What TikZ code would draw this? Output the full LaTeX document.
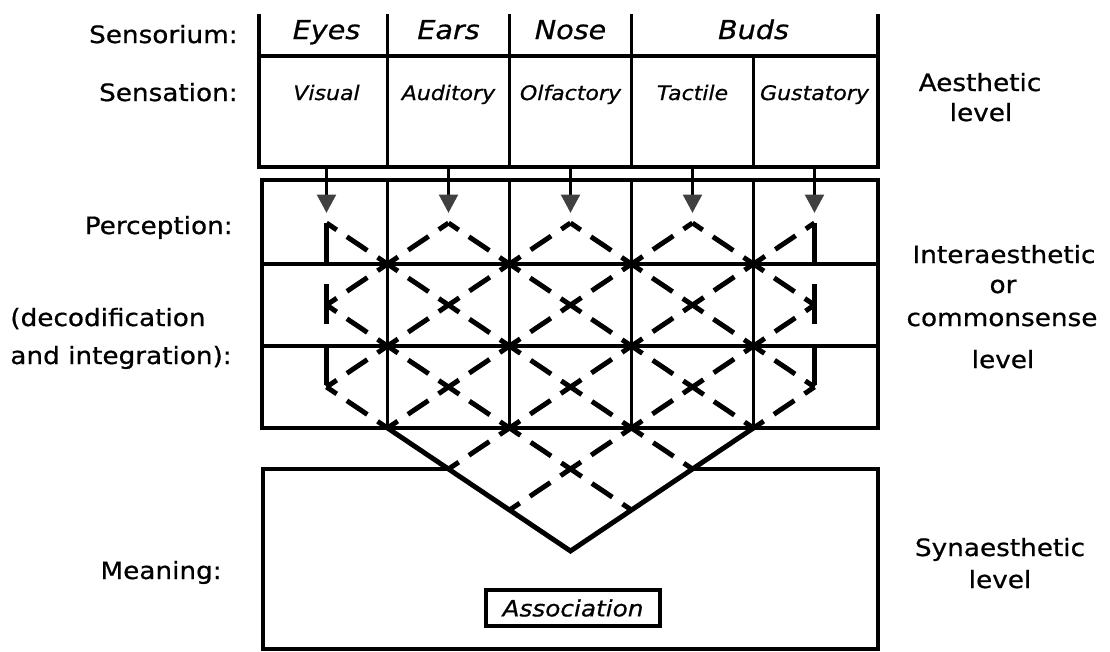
\documentclass[tikz,border=0pt]{standalone}
\usepackage{fontspec}
\setmainfont{DejaVu Sans}[FakeStretch=1.1, FakeBold=0.7]
\usetikzlibrary{arrows.meta}

\begin{document}
\begin{tikzpicture}[scale=0.2,
  tab/.style={black, line width=2.2pt},
  cell/.style={black, line width=1.8pt},
  lat/.style={black, line width=2.8pt, dash pattern=on 14pt off 7pt, dash phase=7pt},
  edge/.style={black, line width=2.8pt, dash pattern=on 22.8pt off 12pt},
  vee/.style={black, line width=2.8pt, line join=miter},
  feed/.style={black, line width=2.2pt, -{Triangle[width=10.5pt,length=10.5pt,fill=black!75,color=black!75]}},
  lbl/.style={inner sep=0pt, font=\fontsize{13.6}{16}\selectfont},
  head/.style={inner sep=0pt, font=\fontsize{14.8}{17}\selectfont\itshape},
  sense/.style={inner sep=0pt, font=\fontsize{11.4}{13}\selectfont\itshape}]
\useasboundingbox (0,0) rectangle (111,-65.1);
\tikzstyle{every node}+=[inner sep=0pt]
\draw [tab] (25.9,-1.4) -- (25.9,-16.7) -- (87.8,-16.7) -- (87.8,-1.4);
\draw [tab] (25.9,-5.6) -- (87.8,-5.6);
\draw [tab] (38.75,-1.4) -- (38.75,-16.7);
\draw [tab] (50.95,-1.4) -- (50.95,-16.7);
\draw [tab] (63.15,-1.4) -- (63.15,-16.7);
\draw [tab] (75.35,-5.6) -- (75.35,-16.7);
\coordinate (sb) at (25.9,-16.7);
\node [head, anchor=base] (eyes) at (32.65,-3.9) {Eyes};
\node [head, anchor=base] (ears) at (44.85,-3.9) {Ears};
\node [head, anchor=base] (nose) at (57.05,-3.9) {Nose};
\node [head, anchor=base] (buds) at (75.35,-3.9) {Buds};
\node [sense, anchor=base] (visual) at (32.65,-10.0) {Visual};
\node [sense, anchor=base] (auditory) at (44.85,-10.0) {Auditory};
\node [sense, anchor=base] (olfactory) at (57.05,-10.0) {Olfactory};
\node [sense, anchor=base] (tactile) at (69.25,-10.0) {Tactile};
\node [sense, anchor=base] (gustatory) at (81.45,-10.0) {Gustatory};
\draw [cell] (26.2,-18.0) rectangle (87.8,-42.8);
\draw [cell] (26.2,-26.4) -- (87.8,-26.4);
\draw [cell] (26.2,-34.6) -- (87.8,-34.6);
\draw [cell] (38.75,-18.0) -- (38.75,-42.8);
\draw [cell] (50.95,-18.0) -- (50.95,-42.8);
\draw [cell] (63.15,-18.0) -- (63.15,-42.8);
\draw [cell] (75.35,-18.0) -- (75.35,-42.8);
\coordinate (p00) at (32.65,-22.3);
\coordinate (p20) at (44.85,-22.3);
\coordinate (p40) at (57.05,-22.3);
\coordinate (p60) at (69.25,-22.3);
\coordinate (p80) at (81.45,-22.3);
\coordinate (p02) at (32.65,-30.5);
\coordinate (p82) at (81.45,-30.5);
\coordinate (p04) at (32.65,-38.7);
\coordinate (p84) at (81.45,-38.7);
\coordinate (p15) at (38.75,-42.8);
\coordinate (p75) at (75.35,-42.8);
\coordinate (p26) at (44.85,-46.9);
\coordinate (p66) at (69.25,-46.9);
\coordinate (p37) at (50.95,-51.0);
\coordinate (p57) at (63.15,-51.0);
\coordinate (p48) at (57.05,-55.1);
\coordinate (t1) at (32.65,-21.3);
\coordinate (t2) at (44.85,-21.3);
\coordinate (t3) at (57.05,-21.3);
\coordinate (t4) at (69.25,-21.3);
\coordinate (t5) at (81.45,-21.3);
\draw [feed] (t1 |- sb) -- (t1);
\draw [feed] (t2 |- sb) -- (t2);
\draw [feed] (t3 |- sb) -- (t3);
\draw [feed] (t4 |- sb) -- (t4);
\draw [feed] (t5 |- sb) -- (t5);
\draw [edge] (p00) -- (p04);
\draw [edge] (p80) -- (p84);
\draw [lat] (p00) -- (p66);
\draw [lat] (p20) -- (p75);
\draw [lat] (p40) -- (p84);
\draw [lat] (p60) -- (p82);
\draw [lat] (p02) -- (p57);
\draw [lat] (p04) -- (p15);
\draw [lat] (p02) -- (p20);
\draw [lat] (p04) -- (p40);
\draw [lat] (p15) -- (p60);
\draw [lat] (p26) -- (p80);
\draw [lat] (p37) -- (p82);
\draw [lat] (p75) -- (p84);
\draw [vee] (p15) -- (p48) -- (p75);
\draw [tab] (p26) -- (26.3,-46.9) -- (26.3,-64.9) -- (87.8,-64.9) -- (87.8,-46.9) -- (p66);
\node [draw, line width=2pt, minimum width=99pt, minimum height=20.5pt, font=\fontsize{12.8}{15}\selectfont\itshape] (assoc) at (57.3,-60.8) {Association};
\node [lbl, anchor=base east] (sensorium) at (23.8,-4.3) {Sensorium:};
\node [lbl, anchor=base east] (sensation) at (23.8,-10.1) {Sensation:};
\node [lbl, anchor=base east] (perception) at (23.3,-23.4) {Perception:};
\node [lbl, anchor=base west] (decod) at (1.0,-32.6) {(decodification};
\node [lbl, anchor=base west] (integ) at (1.0,-36.4) {and integration):};
\node [lbl, anchor=base east] (meaning) at (22.2,-57.9) {Meaning:};
\node [lbl, anchor=base] (aesth) at (98.0,-9.1) {Aesthetic};
\node [lbl, anchor=base] (aesthlvl) at (98.1,-12.1) {level};
\node [lbl, anchor=base] (inter) at (100.4,-26.3) {Interaesthetic};
\node [lbl, anchor=base] (interor) at (100.3,-29.3) {or};
\node [lbl, anchor=base] (common) at (100.2,-32.6) {commonsense};
\node [lbl, anchor=base] (interlvl) at (100.3,-36.8) {level};
\node [lbl, anchor=base] (synaes) at (100.0,-55.6) {Synaesthetic};
\node [lbl, anchor=base] (synlvl) at (100.0,-58.8) {level};
\end{tikzpicture}
\end{document}
